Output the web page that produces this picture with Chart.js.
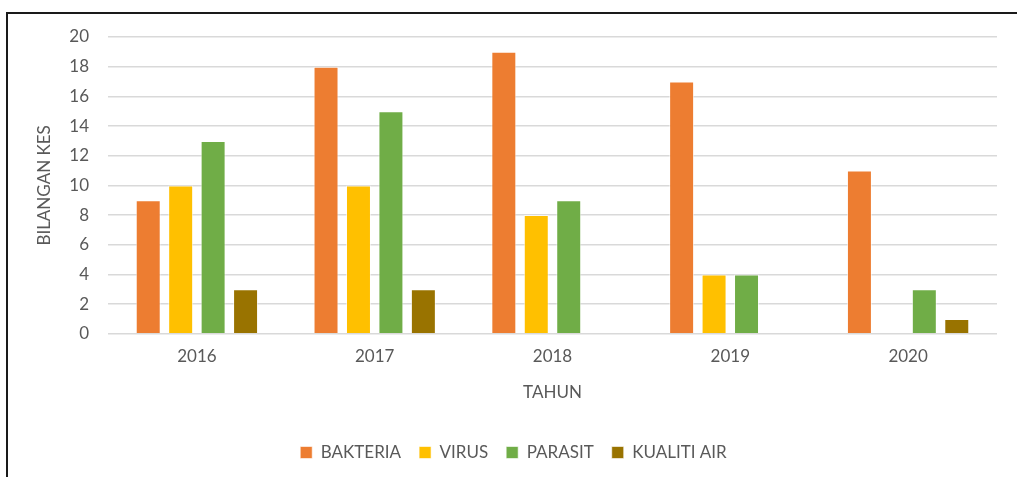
<!DOCTYPE html>
<html>
<head>
<meta charset="utf-8">
<script src="https://cdn.jsdelivr.net/npm/chart.js@4/dist/chart.umd.min.js"></script>
<style>
  html, body { margin: 0; padding: 0; background: #fff; }
  #wrap { position: relative; width: 1017px; height: 477px; overflow: hidden; }
  #frame { position: absolute; left: 6px; top: 12px; width: 1100px; height: 600px; border: 2px solid #1a1a1a; box-sizing: border-box; }
  canvas { position: absolute; left: 0; top: 0; }
</style>
</head>
<body>
<div id="wrap">
  <div id="frame"></div>
  <canvas id="chart" width="1017" height="477"></canvas>
</div>
<script>
const years = ["2016", "2017", "2018", "2019", "2020"];
const bakteria = [9, 18, 19, 17, 11];
const virus = [10, 10, 8, 4, 0];
const parasit = [13, 15, 9, 4, 3];
const kualitiAir = [3, 3, 0, 0, 1];

const FONT = "Lato, 'Open Sans', sans-serif";
const TEXT = "#595959";

function series(label, data, color) {
  return {
    label, data,
    backgroundColor: color,
    borderColor: "rgba(255,255,255,0.6)",
    borderWidth: 1,
    categoryPercentage: 0.73,
    barPercentage: 0.77,
  };
}

new Chart(document.getElementById("chart"), {
  type: "bar",
  data: {
    labels: years,
    datasets: [
      series("BAKTERIA", bakteria, "#ED7D31"),
      series("VIRUS", virus, "#FFC000"),
      series("PARASIT", parasit, "#70AD47"),
      series("KUALITI AIR", kualitiAir, "#997300"),
    ],
  },
  options: {
    responsive: false,
    animation: false,
    layout: { padding: { left: 30, right: 20, top: 37, bottom: 6 } },
    plugins: {
      tooltip: { enabled: false },
      legend: {
        position: "bottom",
        // empty title only used as spacer above the legend items
        title: { display: true, text: " ", font: { size: 1 }, padding: { top: 18, bottom: 0 } },
        labels: {
          color: TEXT,
          font: { family: FONT, size: 17 },
          boxWidth: 12,
          boxHeight: 12,
          padding: 18,
        },
      },
    },
    scales: {
      x: {
        grid: { display: false },
        border: { display: false },
        ticks: { color: TEXT, font: { family: FONT, size: 17 }, padding: 5 },
        title: { display: true, text: "TAHUN", color: TEXT, font: { family: FONT, size: 17 }, padding: { top: 9 } },
        afterFit(scale) { scale.height = 73; },
      },
      y: {
        min: 0, max: 20,
        ticks: { stepSize: 2, color: TEXT, font: { family: FONT, size: 17 }, padding: 19 },
        grid: { color: "#d9d9d9", lineWidth: 1.5, drawTicks: false },
        border: { display: false },
        title: { display: true, text: "BILANGAN KES", color: TEXT, font: { family: FONT, size: 17 }, padding: { top: 4, bottom: 0 } },
        afterFit(scale) { scale.width = 78; },
      },
    },
  },
});
</script>
</body>
</html>
